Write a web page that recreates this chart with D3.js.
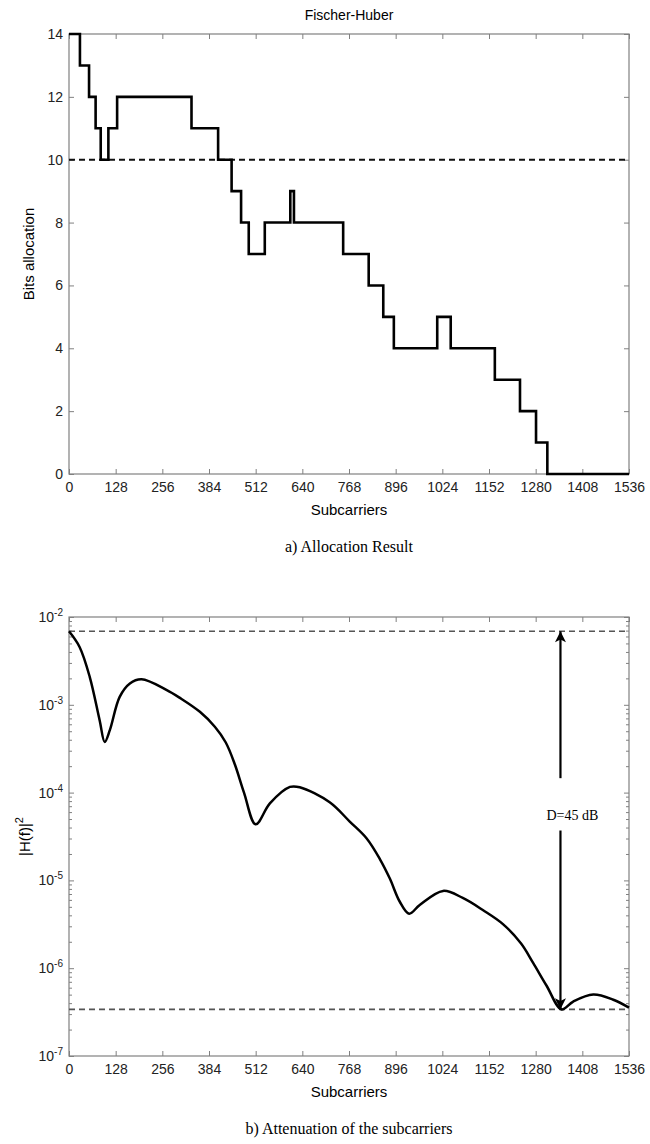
<!DOCTYPE html>
<html>
<head>
<meta charset="utf-8">
<script src="https://cdn.jsdelivr.net/npm/d3@7"></script>
<style>
  body { margin: 0; background: #fff; }
  svg text { font-family: "Liberation Sans", Arial, sans-serif; }
  .caption { font-family: "Liberation Serif", "Times New Roman", serif !important; }
</style>
</head>
<body>
<div id="chart"></div>
<script>
// chart size
var width = 650,
    height = 1144;

// top chart: bit allocation (step starts and bits per step)
var stepStarts = [0, 30, 55, 73, 87, 108, 132, 336, 409, 446, 472, 493, 537, 607, 617, 752, 822, 862, 891, 1010, 1047, 1168, 1237, 1281, 1312, 1536];
var stepBits   = [14, 13, 12, 11, 10, 11, 12, 11, 10, 9, 8, 7, 8, 9, 8, 7, 6, 5, 4, 5, 4, 3, 2, 1, 0, 0];
var bitLimit = 10;
var bitTicks = [0, 2, 4, 6, 8, 10, 12, 14];

// shared x ticks
var subTicks = [0, 128, 256, 384, 512, 640, 768, 896, 1024, 1152, 1280, 1408, 1536];

// bottom chart: |H(f)|^2
var hfSub = [0, 29, 57, 84, 98, 112, 139, 167, 199, 267, 304, 359, 400, 430, 455, 480, 512, 551, 606, 633, 715, 770, 816, 853, 880, 907, 933, 962, 1026, 1080, 1136, 1191, 1240, 1273, 1310, 1351, 1383, 1438, 1493, 1536];
var hfVal = [6.87e-3, 4.56e-3, 2.07e-3, 6.68e-4, 3.78e-4, 5.14e-4, 1.23e-3, 1.75e-3, 1.95e-3, 1.48e-3, 1.20e-3, 8.32e-4, 5.62e-4, 3.72e-4, 2.09e-4, 1.00e-4, 4.35e-5, 7.53e-5, 1.16e-4, 1.15e-4, 7.76e-5, 4.68e-5, 3.02e-5, 1.74e-5, 1.05e-5, 5.75e-6, 4.17e-6, 5.25e-6, 7.59e-6, 6.31e-6, 4.57e-6, 3.16e-6, 1.91e-6, 1.15e-6, 6.31e-7, 3.39e-7, 4.17e-7, 5.01e-7, 4.37e-7, 3.55e-7];
var hfMax = 6.87e-3,
    hfMin = 3.4e-7;
var arrowSub = 1348;
var arrowGap = [1.46e-4, 3.7e-5];   // where the arrow is broken for its label
var arrowLabel = "D=45 dB";
var arrowLabelVal = 5.6e-5;
var decadeTicks = [1e-7, 1e-6, 1e-5, 1e-4, 1e-3, 1e-2];

var axisColor = "#808080";

var svg = d3.select("#chart").append("svg")
    .attr("width", width)
    .attr("height", height);

// plot boxes
var box1 = {left: 69, right: 629, top: 34, bottom: 474};
var box2 = {left: 69, right: 629, top: 617, bottom: 1056};

function styleAxis(g, showLabels) {
    g.select(".domain").remove();
    g.selectAll(".tick line").attr("stroke", axisColor);
    g.selectAll(".tick text")
        .attr("fill", "#222")
        .style("font-size", "14px");
    if (!showLabels) g.selectAll(".tick text").remove();
}

function drawFrame(box, x, y, yTicks, yFormat) {
    // bottom + top
    svg.append("g")
        .attr("transform", "translate(0," + box.bottom + ")")
        .call(d3.axisBottom(x).tickValues(subTicks).tickSize(-5).tickPadding(8).tickFormat(d3.format("d")))
        .call(function(g) { styleAxis(g, true); });
    svg.append("g")
        .attr("transform", "translate(0," + box.top + ")")
        .call(d3.axisTop(x).tickValues(subTicks).tickSize(-5))
        .call(function(g) { styleAxis(g, false); });
    // left + right
    var left = svg.append("g")
        .attr("class", "yleft")
        .attr("transform", "translate(" + box.left + ",0)")
        .call(d3.axisLeft(y).tickValues(yTicks).tickSize(-5).tickPadding(6).tickFormat(yFormat))
        .call(function(g) { styleAxis(g, true); });
    svg.append("g")
        .attr("transform", "translate(" + box.right + ",0)")
        .call(d3.axisRight(y).tickValues(yTicks).tickSize(-5))
        .call(function(g) { styleAxis(g, false); });

    svg.append("rect")
        .attr("x", box.left)
        .attr("y", box.top)
        .attr("width", box.right - box.left)
        .attr("height", box.bottom - box.top)
        .attr("fill", "none")
        .attr("stroke", axisColor)
        .attr("stroke-width", 1.2);
    return left;
}

// ---------- a) allocation result ----------
var x1 = d3.scaleLinear().domain([0, 1536]).range([box1.left, box1.right]);
var y1 = d3.scaleLinear().domain([0, 14]).range([box1.bottom, box1.top]);

drawFrame(box1, x1, y1, bitTicks, d3.format("d"));

svg.append("line")
    .attr("x1", x1(0)).attr("x2", x1(1536))
    .attr("y1", y1(bitLimit)).attr("y2", y1(bitLimit))
    .attr("stroke", "#111")
    .attr("stroke-width", 2)
    .attr("stroke-dasharray", "6,4");

var stepLine = d3.line()
    .x(function(d, i) { return x1(stepStarts[i]); })
    .y(function(d) { return y1(d); })
    .curve(d3.curveStepAfter);

svg.append("path")
    .datum(stepBits)
    .attr("d", stepLine)
    .attr("fill", "none")
    .attr("stroke", "#000")
    .attr("stroke-width", 2.6);

svg.append("text")
    .attr("x", (box1.left + box1.right) / 2)
    .attr("y", 20)
    .attr("text-anchor", "middle")
    .style("font-size", "14px")
    .text("Fischer-Huber");

svg.append("text")
    .attr("transform", "translate(34," + (box1.top + box1.bottom) / 2 + ") rotate(-90)")
    .attr("text-anchor", "middle")
    .style("font-size", "15px")
    .text("Bits allocation");

svg.append("text")
    .attr("x", (box1.left + box1.right) / 2)
    .attr("y", box1.bottom + 41)
    .attr("text-anchor", "middle")
    .style("font-size", "15px")
    .text("Subcarriers");

svg.append("text")
    .attr("class", "caption")
    .attr("x", (box1.left + box1.right) / 2)
    .attr("y", box1.bottom + 78)
    .attr("text-anchor", "middle")
    .style("font-size", "16px")
    .text("a) Allocation Result");

// ---------- b) attenuation ----------
var x2 = d3.scaleLinear().domain([0, 1536]).range([box2.left, box2.right]);
var y2 = d3.scaleLog().domain([1e-7, 1e-2]).range([box2.bottom, box2.top]);

// minor log ticks
var minorTicks = y2.ticks().filter(function(t) {
    return decadeTicks.indexOf(t) < 0 && t < 1e-2;
});
svg.append("g")
    .attr("transform", "translate(" + box2.left + ",0)")
    .call(d3.axisLeft(y2).tickValues(minorTicks).tickSize(-3))
    .call(function(g) { styleAxis(g, false); });
svg.append("g")
    .attr("transform", "translate(" + box2.right + ",0)")
    .call(d3.axisRight(y2).tickValues(minorTicks).tickSize(-3))
    .call(function(g) { styleAxis(g, false); });

var left2 = drawFrame(box2, x2, y2, decadeTicks, function() { return ""; });

// 10^n labels with superscript
left2.selectAll(".tick text").each(function(d) {
    var t = d3.select(this);
    t.text(null);
    t.append("tspan").text("10");
    t.append("tspan")
        .attr("dy", "-0.6em")
        .style("font-size", "10px")
        .text(Math.round(Math.log10(d)));
});

// dashed levels
[hfMax, hfMin].forEach(function(v) {
    svg.append("line")
        .attr("x1", x2(0)).attr("x2", x2(1536))
        .attr("y1", y2(v)).attr("y2", y2(v))
        .attr("stroke", "#555")
        .attr("stroke-width", 1.6)
        .attr("stroke-dasharray", "6,4");
});

var hfLine = d3.line()
    .x(function(d, i) { return x2(hfSub[i]); })
    .y(function(d) { return y2(d); })
    .curve(d3.curveCatmullRom.alpha(0.5));

svg.append("path")
    .datum(hfVal)
    .attr("d", hfLine)
    .attr("fill", "none")
    .attr("stroke", "#000")
    .attr("stroke-width", 2.5);

// double arrow
var defs = svg.append("defs");
defs.append("marker")
    .attr("id", "head")
    .attr("viewBox", "0 0 10 10")
    .attr("refX", 10).attr("refY", 5)
    .attr("markerWidth", 5.5).attr("markerHeight", 5)
    .attr("markerUnits", "strokeWidth")
    .attr("orient", "auto")
    .append("path")
    .attr("d", "M0,0 L10,5 L0,10 L2.5,5 Z")
    .attr("fill", "#000");

svg.append("line")
    .attr("x1", x2(arrowSub)).attr("x2", x2(arrowSub))
    .attr("y1", y2(arrowGap[0])).attr("y2", y2(hfMax))
    .attr("stroke", "#000")
    .attr("stroke-width", 2.2)
    .attr("marker-end", "url(#head)");
svg.append("line")
    .attr("x1", x2(arrowSub)).attr("x2", x2(arrowSub))
    .attr("y1", y2(arrowGap[1])).attr("y2", y2(hfMin))
    .attr("stroke", "#000")
    .attr("stroke-width", 2.2)
    .attr("marker-end", "url(#head)");

svg.append("text")
    .attr("class", "caption")
    .attr("x", x2(arrowSub) - 14)
    .attr("y", y2(arrowLabelVal) + 5)
    .style("font-size", "14px")
    .text(arrowLabel);

var ylab = svg.append("text")
    .attr("transform", "translate(30," + (box2.top + box2.bottom) / 2 + ") rotate(-90)")
    .attr("text-anchor", "middle")
    .style("font-size", "15px");
ylab.append("tspan").text("|H(f)|");
ylab.append("tspan").attr("dy", "-0.6em").style("font-size", "11px").text("2");

svg.append("text")
    .attr("x", (box2.left + box2.right) / 2)
    .attr("y", box2.bottom + 41)
    .attr("text-anchor", "middle")
    .style("font-size", "15px")
    .text("Subcarriers");

svg.append("text")
    .attr("class", "caption")
    .attr("x", (box2.left + box2.right) / 2)
    .attr("y", box2.bottom + 78)
    .attr("text-anchor", "middle")
    .style("font-size", "16px")
    .text("b) Attenuation of the subcarriers");
</script>
</body>
</html>
